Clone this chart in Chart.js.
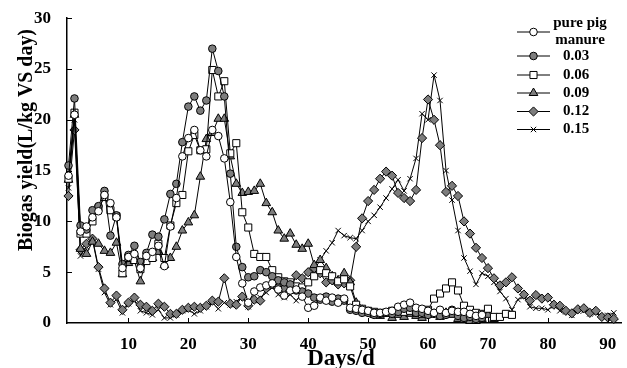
<!DOCTYPE html>
<html>
<head>
<meta charset="utf-8">
<script src="https://cdn.jsdelivr.net/npm/chart.js@4.4.1/dist/chart.umd.min.js"></script>
<style>
  html, body { margin: 0; padding: 0; background: #fff; }
  #wrap { position: relative; width: 627px; height: 368px; }
</style>
</head>
<body>
<div id="wrap"><canvas id="c" width="627" height="368"></canvas></div>
<script>
// ---- data ----
const days = [0,1,2,3,4,5,6,7,8,9,10,11,12,13,14,15,16,17,18,19,20,21,22,23,24,25,26,27,28,29,
  30,31,32,33,34,35,36,37,38,39,40,41,42,43,44,45,46,47,48,49,50,51,52,53,54,55,56,57,58,59,
  60,61,62,63,64,65,66,67,68,69,70,71,72,73,74,75,76,77,78,79,80,81,82,83,84,85,86,87,88,89,90,91];

const seriesNames = ["pure pig manure", "0.03", "0.06", "0.09", "0.12", "0.15"];
const legendLines = [["pure pig", "manure"], ["0.03"], ["0.06"], ["0.09"], ["0.12"], ["0.15"]];

const purePigManure = [14.5, 20.5, 9.0, 9.5, 10.4, 11.0, 12.6, 11.8, 10.4, 5.4,
  6.5, 6.8, 5.4, 6.6, 7.0, 7.6, 5.6, 9.5, 12.3, 16.4,
  18.2, 19.0, 17.0, 16.4, 19.0, 18.4, 16.2, 11.9, 6.5, 3.9,
  2.0, 3.1, 3.5, 3.7, 3.9, 3.3, 2.7, 3.2, 3.3, 2.6,
  1.5, 1.7, 2.5, 2.2, 2.5, 2.0, 2.4, 1.5, 1.4, 1.3,
  1.2, 1.0, 1.0, 1.1, 1.2, 1.6, 1.8, 2.0, 1.5, 1.4,
  1.2, 1.0, 1.3, 1.0, 1.2, 1.1, 1.1, 0.9, 0.7, 0.8];

const ratio003 = [15.5, 22.1, 9.6, 9.2, 11.1, 11.5, 13.0, 8.6, 10.6, 5.8,
  6.7, 7.6, 6.0, 6.9, 8.7, 8.5, 10.2, 12.7, 13.7, 17.8,
  21.3, 22.3, 20.9, 21.9, 27.0, 24.8, 22.3, 14.7, 7.5, 5.5,
  4.5, 4.6, 5.2, 5.0, 4.6, 4.2, 4.0, 3.8, 3.2, 3.1,
  2.9, 2.5, 2.3, 2.6, 2.1, 2.4, 2.2, 1.3, 1.2, 1.0,
  1.0, 0.8, 0.9, 1.0, 0.9, 1.1, 1.4, 1.5, 1.0, 1.0,
  0.8, 0.9, 0.7, 0.8, 1.3, 0.7, 0.5, 0.6, 0.4, 0.5];

const ratio006 = [14.2, 20.7, 8.8, 8.8, 10.0, 11.3, 12.4, 11.1, 10.5, 4.9,
  6.4, 6.2, 5.3, 6.1, 6.4, 7.8, 6.4, 9.6, 11.8, 12.6,
  16.9, 18.5, 17.0, 17.1, 24.9, 22.3, 23.8, 16.7, 17.7, 10.9,
  9.4, 6.8, 6.5, 6.5, 5.2, 4.5, 4.1, 4.0, 3.6, 3.5,
  4.0, 4.6, 5.2, 4.9, 4.6, 4.1, 4.3, 3.6, 1.8, 1.4,
  1.2, 1.1, 1.0, 1.0, 1.2, 1.3, 1.1, 1.2, 1.0, 0.9,
  1.3, 2.4, 2.9, 3.4, 4.0, 3.2, 1.7, 1.3, 1.0, 0.9,
  1.4, 0.6, 0.6, 0.9, 0.8];

const ratio009 = [14.1, 20.5, 7.3, 6.8, 8.0, 7.8, 7.1, 6.9, 7.9, 4.8,
  5.9, 6.1, 4.1, 6.4, 6.4, 7.0, 5.7, 6.4, 7.5, 9.1,
  9.9, 10.6, 14.4, 18.1, 18.7, 20.1, 20.1, 16.4, 13.7, 12.8,
  12.9, 13.0, 13.7, 11.8, 10.9, 9.1, 8.3, 8.8, 7.7, 7.3,
  7.8, 5.7, 6.2, 5.4, 4.6, 4.2, 4.9, 4.0, 2.0, 1.3,
  1.0, 0.8, 0.7, 0.9, 0.5, 0.8, 0.6, 0.9, 0.7, 0.5,
  0.8, 0.9, 0.6, 1.0, 0.8, 0.4, 0.3, 0.2, 0.2, 0.4,
  0.8, 0.4];

const ratio012 = [12.5, 19.0, 7.2, 7.8, 8.3, 5.5, 3.4, 2.0, 2.7, 1.3,
  2.0, 2.5, 1.8, 1.6, 1.2, 1.9, 1.6, 0.9, 0.9, 1.3,
  1.5, 1.6, 1.5, 1.7, 2.2, 2.1, 4.4, 1.9, 1.8, 2.6,
  1.7, 2.3, 2.2, 3.4, 3.8, 3.5, 3.4, 3.2, 4.7, 4.4,
  5.0, 5.4, 4.9, 4.0, 4.2, 3.8, 3.9, 4.2, 7.5, 10.3,
  12.0, 13.1, 14.2, 14.9, 14.5, 12.8, 12.3, 12.0, 13.1, 18.2,
  22.0, 20.0, 17.5, 12.9, 13.5, 12.5, 10.0, 8.8, 7.4, 6.4,
  5.4, 4.4, 3.7, 4.0, 4.5, 3.4, 2.8, 2.2, 2.75, 2.4,
  2.5, 1.8, 1.7, 1.2, 0.95, 1.35, 1.45, 1.0, 1.2, 0.6,
  0.55, 0.4];

const ratio015 = [13.3, 20.0, 6.6, 7.5, 8.2, 5.3, 3.0, 1.8, 2.3, 1.0,
  1.9, 2.2, 1.2, 1.0, 0.8, 1.3, 0.5, 0.5, 0.8, 1.2,
  1.3, 0.9, 1.2, 1.6, 2.0, 1.4, 2.0, 1.8, 2.1, 2.5,
  1.6, 2.2, 2.5, 3.0, 3.5, 2.8, 2.5, 2.8, 2.2, 3.0,
  4.0, 5.2, 6.2, 7.1, 7.9, 9.1, 8.6, 8.4, 8.3, 9.1,
  10.0, 10.6, 11.4, 12.3, 13.2, 14.1, 13.0, 14.2, 16.2, 20.6,
  20.0, 24.4, 21.9, 15.0, 12.1, 9.1, 6.4, 5.1, 3.8, 4.9,
  4.6, 4.0, 3.1, 2.4, 1.3, 2.3, 2.6, 1.6, 1.45, 1.45,
  1.3, 1.7, 1.2, 1.1, 0.75, 1.2, 1.2, 0.9, 1.0, 0.65,
  0.75, 1.0];

const xTickValues = [10, 20, 30, 40, 50, 60, 70, 80, 90];
const yTickValues = [0, 5, 10, 15, 20, 25, 30];

// ---- styles ----
const GRAY = '#7d7d7d';
const FONT = '"Liberation Serif", "Times New Roman", serif';
const styles = [
  { pointStyle: 'circle',   radius: 3.8, fill: '#ffffff' },
  { pointStyle: 'circle',   radius: 3.8, fill: GRAY },
  { pointStyle: 'rect',     radius: 5.0, fill: '#ffffff' },
  { pointStyle: 'triangle', radius: 5.0, fill: GRAY },
  { pointStyle: 'rectRot',  radius: 4.6, fill: GRAY },
  { pointStyle: 'crossRot', radius: 3.8, fill: '#000000' }
];
const seriesValues = [purePigManure, ratio003, ratio006, ratio009, ratio012, ratio015];

const datasets = seriesValues.map((vals, k) => ({
  label: seriesNames[k],
  data: vals.map((v, i) => ({ x: days[i], y: v })),
  borderColor: '#000',
  borderWidth: 1,
  pointStyle: styles[k].pointStyle,
  pointRadius: styles[k].radius,
  pointHoverRadius: styles[k].radius,
  pointBackgroundColor: styles[k].fill,
  pointBorderColor: '#000',
  pointBorderWidth: 1,
  tension: 0,
  fill: false,
  clip: false
}));

const decor = {
  id: 'decor',
  afterDraw(chart) {
    const ctx = chart.ctx;
    const xs = chart.scales.x, ys = chart.scales.y;
    const a = chart.chartArea;
    ctx.save();
    // inward tick marks
    ctx.strokeStyle = '#000';
    ctx.lineWidth = 1;
    ctx.beginPath();
    xTickValues.forEach(v => {
      const px = Math.round(xs.getPixelForValue(v)) + 0.5;
      ctx.moveTo(px, a.bottom);
      ctx.lineTo(px, a.bottom - 5);
    });
    yTickValues.forEach(v => {
      if (v === 0) return;
      const py = Math.round(ys.getPixelForValue(v)) + 0.5;
      ctx.moveTo(a.left, py);
      ctx.lineTo(a.left + 5, py);
    });
    ctx.stroke();

    // axis titles
    ctx.fillStyle = '#000';
    ctx.font = 'bold 23px ' + FONT;
    ctx.textAlign = 'center';
    ctx.textBaseline = 'alphabetic';
    ctx.fillText('Days/d', 341, 365);

    ctx.save();
    ctx.translate(32, 140);
    ctx.rotate(-Math.PI / 2);
    ctx.font = 'bold 22px ' + FONT;
    const t = 'Biogas yield(L/kg VS day)';
    const w = ctx.measureText(t).width;
    ctx.scale(222 / w, 1);
    ctx.fillText(t, 0, 0);
    ctx.restore();

    // legend
    const rows = [32, 56, 75, 93, 111.5, 129.5];
    ctx.font = 'bold 15px ' + FONT;
    ctx.textBaseline = 'middle';
    rows.forEach((ry, k) => {
      ctx.strokeStyle = '#000';
      ctx.lineWidth = 1;
      ctx.beginPath();
      ctx.moveTo(517, ry);
      ctx.lineTo(550, ry);
      ctx.stroke();
      ctx.fillStyle = styles[k].fill;
      ctx.strokeStyle = '#000';
      ctx.lineWidth = 1;
      Chart.helpers.drawPoint(ctx, { pointStyle: styles[k].pointStyle, radius: styles[k].radius, rotation: 0, borderWidth: 1 }, 533.5, ry);
      ctx.fillStyle = '#000';
      const lines = legendLines[k];
      ctx.textAlign = 'center';
      if (lines.length === 2) {
        ctx.fillText(lines[0], 580, 23);
        ctx.fillText(lines[1], 580, 40);
      } else {
        ctx.fillText(lines[0], 576, ry);
      }
    });
    ctx.restore();
  }
};

new Chart(document.getElementById('c'), {
  type: 'line',
  data: { datasets },
  options: {
    responsive: false,
    animation: false,
    devicePixelRatio: 1,
    layout: { padding: { left: 0, top: 18, right: 5.5, bottom: 0 } },
    plugins: { legend: { display: false }, tooltip: { enabled: false } },
    scales: {
      x: {
        type: 'linear',
        min: -0.25,
        max: 92.2,
        afterFit: s => { s.height = 45; },
        afterBuildTicks: s => { s.ticks = [0].concat(xTickValues).map(v => ({ value: v })); },
        ticks: {
          callback: v => (v === 0 ? '' : String(v)),
          font: { family: FONT, size: 17, weight: 'bold' },
          color: '#000',
          padding: 3,
          maxRotation: 0,
          autoSkip: false
        },
        grid: { display: false },
        border: { display: true, color: '#000', width: 1.5 }
      },
      y: {
        min: 0,
        max: 30,
        afterFit: s => { s.width = 67; },
        afterBuildTicks: s => { s.ticks = yTickValues.map(v => ({ value: v })); },
        ticks: {
          font: { family: FONT, size: 17, weight: 'bold' },
          color: '#000',
          padding: 8,
          autoSkip: false
        },
        grid: { display: false },
        border: { display: true, color: '#000', width: 1.5 }
      }
    }
  },
  plugins: [decor]
});
</script>
</body>
</html>
